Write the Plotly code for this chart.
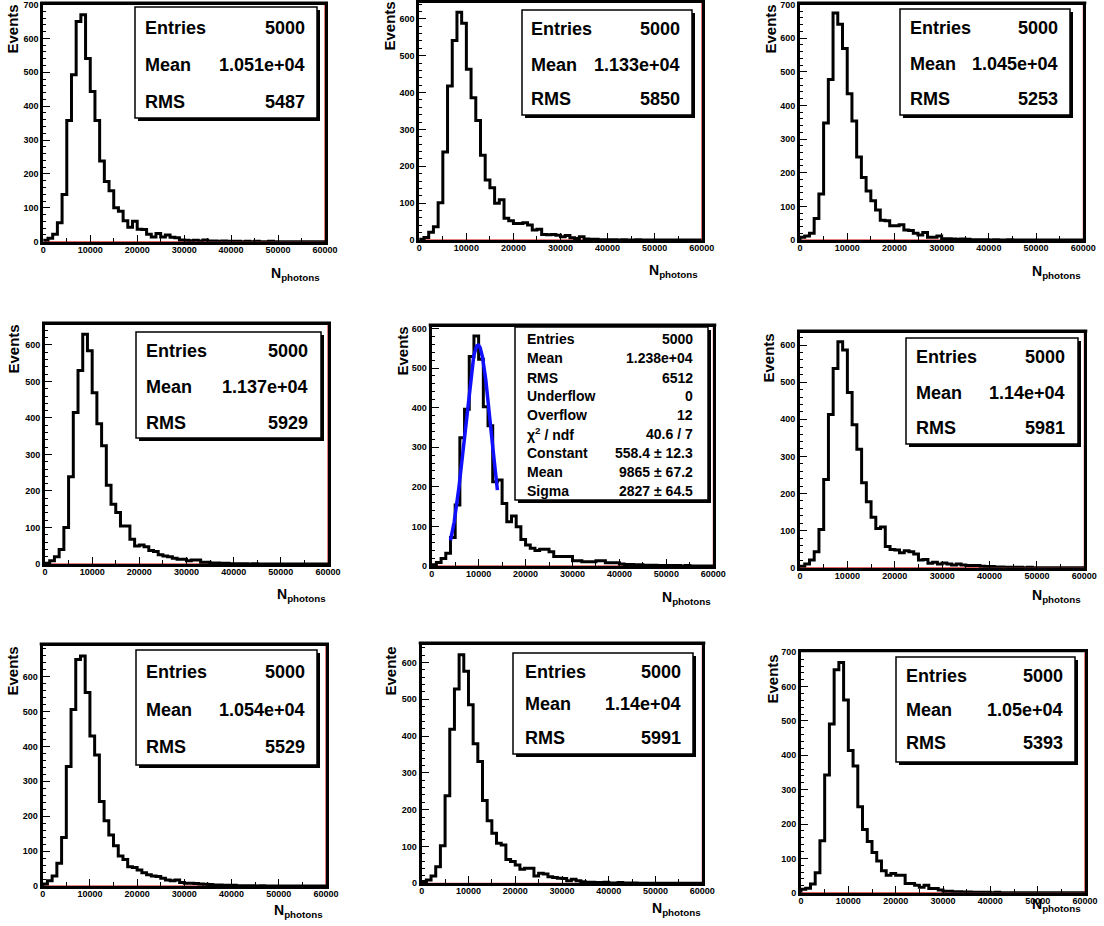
import plotly.graph_objects as go

W, H = 1104, 926
BIN_WIDTH = 1000
N_BINS = 60
x_edges = [i * BIN_WIDTH for i in range(N_BINS + 1)]

# ---- histogram contents (Events per 1000-photon bin) ----
counts_1 = [4, 10, 22, 56, 139, 358, 493, 650, 670, 541, 443, 358, 238, 178, 150, 100, 90, 62, 43, 60,
            37, 36, 22, 14, 24, 14, 20, 13, 12, 5, 4, 3, 4, 2, 5, 2, 2, 1, 2, 1,
            1, 1, 0, 1, 0, 1, 0, 0, 1, 0, 0, 0, 0, 0, 0, 0, 0, 0, 0, 0]
counts_2 = [2, 7, 21, 36, 101, 239, 418, 541, 618, 588, 463, 386, 324, 230, 163, 142, 100, 109, 59, 52,
            45, 45, 47, 41, 27, 29, 15, 14, 15, 13, 9, 12, 6, 4, 9, 3, 2, 2, 1, 1,
            1, 1, 0, 1, 0, 0, 1, 0, 0, 0, 0, 0, 0, 0, 0, 0, 0, 0, 0, 0]
counts_3 = [8, 12, 20, 64, 137, 348, 477, 675, 641, 569, 435, 354, 247, 186, 146, 117, 89, 59, 57, 42,
            42, 45, 30, 28, 20, 15, 22, 8, 8, 12, 4, 4, 3, 2, 3, 2, 1, 1, 1, 1,
            0, 1, 0, 0, 1, 0, 0, 0, 0, 0, 0, 0, 0, 0, 0, 0, 0, 0, 0, 0]
counts_4 = [2, 9, 20, 40, 100, 239, 415, 530, 629, 584, 469, 384, 324, 216, 164, 141, 104, 104, 68, 49,
            52, 47, 37, 34, 25, 22, 20, 16, 13, 13, 9, 11, 11, 5, 5, 3, 3, 2, 2, 1,
            1, 1, 1, 0, 1, 0, 0, 0, 0, 0, 0, 0, 0, 0, 0, 0, 0, 0, 0, 0]
counts_5 = [3, 9, 19, 32, 72, 154, 324, 396, 529, 581, 522, 402, 354, 213, 217, 158, 112, 126, 99, 67,
            53, 45, 39, 42, 42, 36, 24, 24, 24, 24, 13, 13, 11, 11, 11, 13, 13, 8, 8, 8,
            5, 4, 4, 3, 3, 2, 2, 2, 1, 1, 1, 1, 1, 0, 1, 0, 0, 0, 0, 0]
counts_6 = [4, 10, 21, 43, 103, 238, 413, 537, 609, 587, 472, 385, 319, 229, 178, 136, 106, 110, 57, 49,
            48, 40, 46, 43, 37, 21, 22, 12, 15, 10, 13, 10, 7, 10, 7, 6, 6, 6, 4, 3,
            3, 2, 2, 1, 1, 1, 1, 0, 1, 0, 0, 0, 0, 0, 0, 0, 0, 0, 0, 0]
counts_7 = [6, 15, 29, 65, 139, 342, 506, 649, 659, 554, 430, 375, 242, 187, 146, 115, 86, 76, 55, 53,
            46, 38, 32, 29, 27, 22, 17, 15, 17, 10, 8, 8, 7, 6, 5, 4, 3, 3, 2, 2,
            2, 1, 1, 1, 1, 0, 1, 0, 0, 0, 0, 0, 0, 0, 0, 0, 0, 0, 0, 0]
counts_8 = [5, 9, 20, 45, 102, 238, 419, 528, 621, 576, 485, 379, 331, 225, 170, 136, 109, 104, 65, 59,
            50, 38, 41, 41, 20, 27, 25, 18, 16, 14, 13, 7, 11, 7, 4, 3, 3, 2, 2, 3,
            1, 1, 2, 1, 1, 1, 0, 0, 0, 0, 0, 0, 0, 0, 0, 0, 0, 0, 0, 0]
counts_9 = [10, 13, 25, 58, 151, 343, 491, 649, 670, 561, 414, 369, 250, 184, 149, 117, 92, 64, 51, 56,
            51, 51, 27, 27, 22, 16, 22, 12, 12, 8, 4, 4, 3, 3, 2, 2, 1, 1, 1, 1,
            0, 1, 0, 0, 0, 0, 0, 0, 0, 0, 0, 0, 0, 0, 0, 0, 0, 0, 0, 0]

all_counts = [counts_1, counts_2, counts_3, counts_4, counts_5, counts_6, counts_7, counts_8, counts_9]

# ---- statistics box texts ----
stat_entries = ["5000"] * 9
stat_mean = ["1.051e+04", "1.133e+04", "1.045e+04", "1.137e+04", "1.238e+04",
             "1.14e+04", "1.054e+04", "1.14e+04", "1.05e+04"]
stat_rms = ["5487", "5850", "5253", "5929", "6512", "5981", "5529", "5991", "5393"]
y_titles = ["Events", "Events", "Events", "Events", "Events", "Events", "Events", "Evente", "Events"]
x_title = "N<sub>photons</sub>"
x_tick_values = [0, 10000, 20000, 30000, 40000, 50000, 60000]
y_axis_max = [700, 643, 700, 656, 605, 634, 689, 649, 700]

# fit result shown in panel 5
fit_labels = ["Entries", "Mean", "RMS", "Underflow", "Overflow", "χ<sup>2</sup> / ndf",
              "Constant", "Mean", "Sigma"]
fit_values = ["5000", "1.238e+04", "6512", "0", "12", "40.6 / 7",
              "558.4 ± 12.3", "9865 ± 67.2", "2827 ± 64.5"]
fit_constant = 558.4
fit_mean = 9865.0
fit_sigma = 2827.0
fit_range = (4000.0, 14000.0)

# ---- pixel layout of each pad ----
pads = [
    dict(xl=43.3, xr=325.0, yb=241.7, box=(135, 7, 317, 118), rows=(28, 65, 102), tl=143, tr=307,
         yt=(12, 3), xt=(322, 274)),
    dict(xl=419.3, xr=701.7, yb=240.0, box=(522, 10, 692, 115), rows=(29, 65, 99), tl=529, tr=682,
         yt=(389, 0), xt=(700, 271)),
    dict(xl=800.0, xr=1083.3, yb=240.0, box=(900, 9, 1070, 115), rows=(28, 64, 99), tl=908, tr=1060,
         yt=(770, 3), xt=(1083, 272)),
    dict(xl=45.0, xr=328.0, yb=564.0, box=(136, 332, 321, 438), rows=(351, 387, 423), tl=144, tr=310,
         yt=(13, 323), xt=(328, 595)),
    dict(xl=431.7, xr=713.3, yb=566.0, box=(515, 327, 708, 500),
         rows=(339, 358, 378, 396, 415, 434, 453, 472, 491), tl=525, tr=695,
         yt=(402, 325), xt=(713, 598)),
    dict(xl=800.0, xr=1084.3, yb=567.7, box=(906, 338, 1078, 444), rows=(357, 393, 428), tl=914, tr=1067,
         yt=(768, 332), xt=(1083, 596)),
    dict(xl=42.7, xr=326.0, yb=886.0, box=(136, 650, 317, 765), rows=(672, 710, 747), tl=144, tr=307,
         yt=(12, 645), xt=(325, 911)),
    dict(xl=421.7, xr=702.3, yb=883.3, box=(513, 653, 693, 754), rows=(672, 704, 738), tl=523, tr=683,
         yt=(390, 645), xt=(703, 909)),
    dict(xl=801.0, xr=1085.0, yb=892.7, box=(896, 657, 1075, 762), rows=(676, 710, 743), tl=904, tr=1065,
         yt=(772, 653), xt=(1083, 905)),
]
pad_tops = [4.5, 3.0, 4.5, 324.5, 326.5, 332.5, 645.5, 644.5, 652.3]


def px(x):
    return x / W


def py(y):
    return 1 - y / H


FONT = "Liberation Sans, Arial, Helvetica, sans-serif"

fig = go.Figure()
shapes = []
annotations = []

for i, (counts, pad) in enumerate(zip(all_counts, pads)):
    n = i + 1
    xa = "x" if n == 1 else f"x{n}"
    ya = "y" if n == 1 else f"y{n}"
    ymax = y_axis_max[i]

    # red zero line / right edge (empty histogram frame)
    fig.add_trace(go.Scatter(x=[0, x_edges[-1], x_edges[-1]], y=[0, 0, ymax], mode="lines",
                             line=dict(color="#d00000", width=1), xaxis=xa, yaxis=ya,
                             showlegend=False, hoverinfo="skip"))
    # histogram outline
    fig.add_trace(go.Scatter(x=[0] + x_edges, y=[0] + counts + [counts[-1]], mode="lines",
                             line=dict(color="black", width=3, shape="hv"), xaxis=xa, yaxis=ya,
                             showlegend=False))

    if n == 5:
        xs = [fit_range[0] + k * (fit_range[1] - fit_range[0]) / 200 for k in range(201)]
        ys = [fit_constant * 2.718281828459045 ** (-0.5 * ((x - fit_mean) / fit_sigma) ** 2) for x in xs]
        fig.add_trace(go.Scatter(x=xs, y=ys, mode="lines", line=dict(color="#1010ff", width=3.5),
                                 xaxis=xa, yaxis=ya, showlegend=False))

    axis_common = dict(showline=True, linewidth=3, linecolor="black", mirror=True, automargin=False,
                       showgrid=False, zeroline=False, ticks="inside", tickcolor="black",
                       tickwidth=1, ticklabeloverflow="allow",
                       tickfont=dict(family=FONT, size=9, color="black", weight="bold"))
    xkey = "xaxis" if n == 1 else f"xaxis{n}"
    ykey = "yaxis" if n == 1 else f"yaxis{n}"
    fig.update_layout(**{
        xkey: dict(domain=[px(pad["xl"]), px(pad["xr"])], range=[0, x_edges[-1]], anchor=ya,
                   tickvals=x_tick_values, ticktext=[str(v) for v in x_tick_values], ticklen=7,
                   ticklabelstandoff=-3,
                   minor=dict(ticks="inside", dtick=5000, ticklen=4, tickcolor="black"),
                   **axis_common),
        ykey: dict(domain=[py(pad["yb"]), py(pad_tops[i])], range=[0, ymax], anchor=xa,
                   dtick=100, ticklen=7,
                   minor=dict(ticks="inside", dtick=20, ticklen=3, tickcolor="black"),
                   **axis_common),
    })

    # explicit top edge of the frame (keeps the thick line visible at the page edge)
    top = pad_tops[i]
    shapes.append(dict(type="line", xref="paper", yref="paper",
                       x0=px(pad["xl"] - 3), x1=px(pad["xr"] + 3),
                       y0=py(max(top - 1.5, 1.5)), y1=py(max(top - 1.5, 1.5)),
                       line=dict(color="black", width=3)))

    # stats box with shadow
    bx0, by0, bx1, by1 = pad["box"]
    shapes.append(dict(type="rect", xref="paper", yref="paper", x0=px(bx0 + 3), x1=px(bx1 + 3),
                       y0=py(by1 + 3), y1=py(by0 + 3), fillcolor="black", line=dict(width=0)))
    shapes.append(dict(type="rect", xref="paper", yref="paper", x0=px(bx0), x1=px(bx1),
                       y0=py(by1), y1=py(by0), fillcolor="white", line=dict(color="black", width=1.5)))

    if n == 5:
        labels, values, fs = fit_labels, fit_values, 14
    else:
        labels = ["Entries", "Mean", "RMS"]
        values = [stat_entries[i], stat_mean[i], stat_rms[i]]
        fs = 18
    for lab, val, ry in zip(labels, values, pad["rows"]):
        annotations.append(dict(x=px(pad["tl"]), y=py(ry), xref="paper", yref="paper", text=lab,
                                showarrow=False, xanchor="left", yanchor="middle",
                                font=dict(family=FONT, size=fs, color="black", weight="bold")))
        annotations.append(dict(x=px(pad["tr"]), y=py(ry), xref="paper", yref="paper", text=val,
                                showarrow=False, xanchor="right", yanchor="middle",
                                font=dict(family=FONT, size=fs, color="black", weight="bold")))

    # axis titles
    annotations.append(dict(x=px(pad["yt"][0]), y=py(pad["yt"][1]), xref="paper", yref="paper",
                            text=y_titles[i], textangle=-90, showarrow=False,
                            xanchor="center", yanchor="top",
                            font=dict(family=FONT, size=15, color="black", weight="bold")))
    annotations.append(dict(x=px(pad["xt"][0]), y=py(pad["xt"][1]), xref="paper", yref="paper",
                            text=x_title, showarrow=False, xanchor="right", yanchor="middle",
                            font=dict(family=FONT, size=14, color="black", weight="bold")))

fig.update_layout(width=W, height=H, margin=dict(l=0, r=0, t=0, b=0, pad=0, autoexpand=False),
                  paper_bgcolor="white", plot_bgcolor="white", showlegend=False,
                  shapes=shapes, annotations=annotations)

post = ("document.documentElement.style.margin='0';document.documentElement.style.overflow='hidden';"
        "document.body.style.margin='0';document.body.style.overflow='hidden';")
fig.write_html("out.html", config={"displayModeBar": False}, post_script=post)
